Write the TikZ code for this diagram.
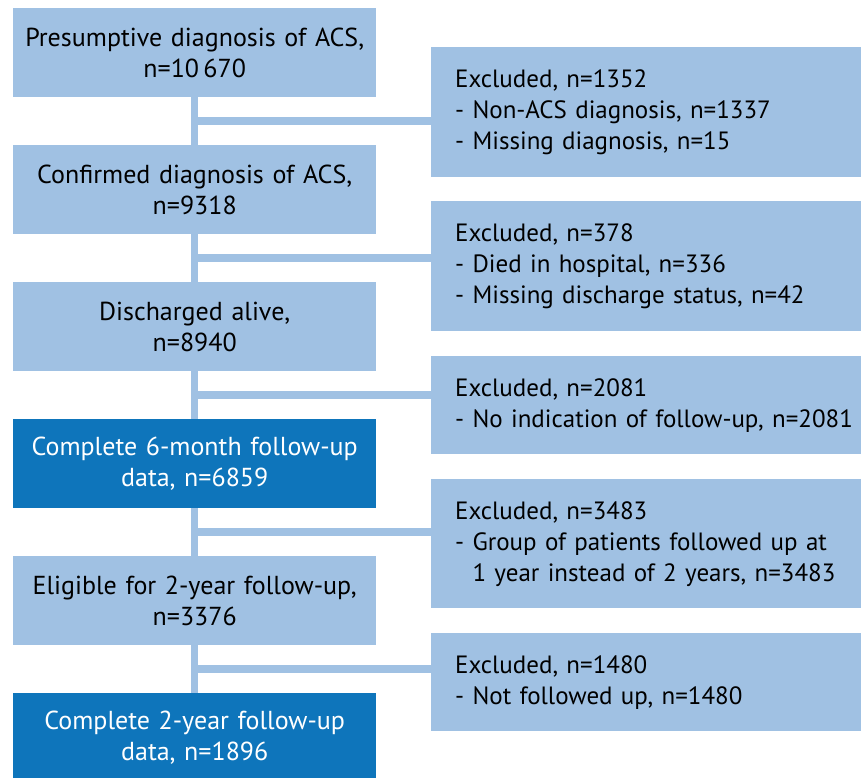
\documentclass[tikz,border=0pt]{standalone}
\usepackage{fontspec}
\setmainfont{PT Sans}
\usetikzlibrary{calc}
\definecolor{lightbox}{RGB}{160,193,227}
\definecolor{darkbox}{RGB}{14,117,187}
\tikzset{
  mainbox/.style={fill=lightbox, minimum width=363pt, minimum height=89pt,
    text width=360pt, align=center, inner sep=0pt, anchor=north west},
  finalbox/.style={mainbox, fill=darkbox, text=white},
  exclbox/.style={fill=lightbox, minimum width=430pt, text width=420pt,
    align=left, inner xsep=24pt, inner ysep=0pt, anchor=north west,
    font=\fontsize{25}{31}\selectfont},
  link/.style={draw=lightbox, line width=7.5pt},
}
\begin{document}
\begin{tikzpicture}[x=1pt, y=-1pt, font=\fontsize{26}{31}\selectfont]
\useasboundingbox (0,0) rectangle (861,778);

% main flow
\node[mainbox] (pres) at (13,8) {Presumptive diagnosis of ACS,\\n=10\,670};
\node[mainbox] (conf) at (13,145) {Confirmed diagnosis of ACS,\\n=9318};
\node[mainbox] (disc) at (13,282) {Discharged alive,\\n=8940};
\node[finalbox] (six) at (13,419) {Complete 6-month follow-up\\data, n=6859};
\node[mainbox] (elig) at (13,556) {Eligible for 2-year follow-up,\\n=3376};
\node[finalbox] (two) at (13,693) {Complete 2-year follow-up\\data, n=1896};

% exclusions
\node[exclbox, minimum height=130pt] (exa) at (431,47)
  {Excluded, n=1352\\- Non-ACS diagnosis, n=1337\\- Missing diagnosis, n=15};
\node[exclbox, minimum height=130pt] (exb) at (431,201)
  {Excluded, n=378\\- Died in hospital, n=336\\- Missing discharge status, n=42};
\node[exclbox, minimum height=98pt] (exc) at (431,356)
  {Excluded, n=2081\\- No indication of follow-up, n=2081};
\node[exclbox, minimum height=129pt] (exd) at (431,479)
  {Excluded, n=3483\\- Group of patients followed up at\\\hphantom{- }1 year instead of 2 years, n=3483};
\node[exclbox, minimum height=98pt] (exe) at (431,633)
  {Excluded, n=1480\\- Not followed up, n=1480};

\foreach \a/\b/\e in {pres/conf/exa, conf/disc/exb, disc/six/exc, six/elig/exd, elig/two/exe} {
  \draw[link] (\a.south) -- (\b.north);
  \coordinate (j) at ($(\a.south)!0.5!(\b.north)$);
  \draw[link] (j) -- (j -| \e.west);
}
\end{tikzpicture}
\end{document}
